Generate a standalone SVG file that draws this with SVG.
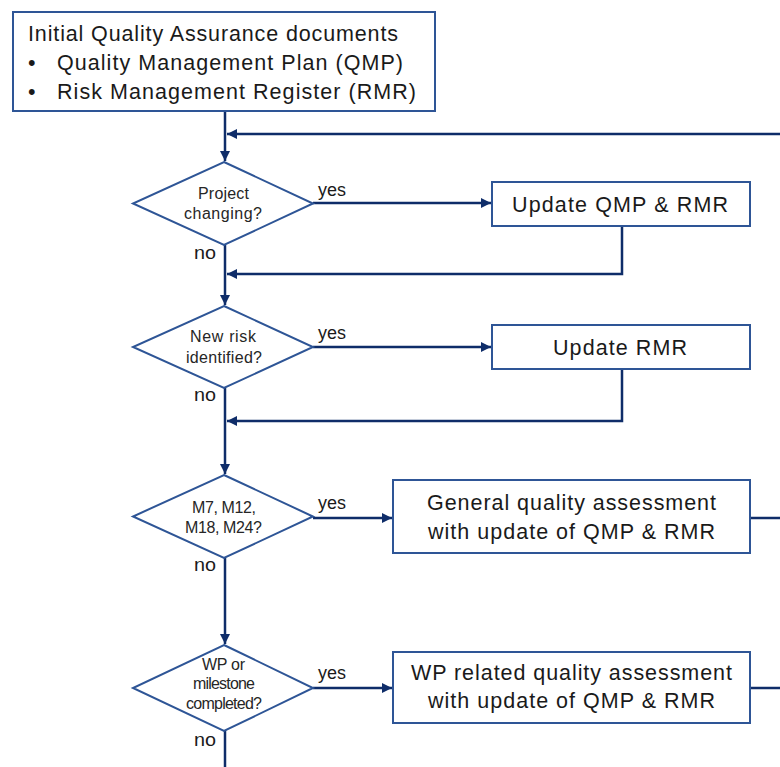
<svg xmlns="http://www.w3.org/2000/svg" width="780" height="767" viewBox="0 0 780 767">
<style>
.box{fill:#fff;stroke:#2E5596;stroke-width:2}
.dia{fill:#fff;stroke:#2E5596;stroke-width:2}
.ln{fill:none;stroke:#0F2D69;stroke-width:2.5}
.t{font-family:"Liberation Sans",Arial,sans-serif;fill:#1a1a1a}
.big{font-size:21.5px}
.sm{font-size:16px;fill:#262626}
.lbl{font-size:18px}
</style>
<defs>
<marker id="ah" viewBox="0 0 10 10" refX="10" refY="5" markerWidth="4.4" markerHeight="4" orient="auto" markerUnits="strokeWidth">
<path d="M0,0 L10,5 L0,10 z" fill="#0F2D69"/>
</marker>
</defs>
<rect width="780" height="767" fill="#fff"/>
<g id="connectors">
<path class="ln" d="M225,111 V161" marker-end="url(#ah)"/>
<path class="ln" d="M780,134 H227" marker-end="url(#ah)"/>
<path class="ln" d="M313,203 H491" marker-end="url(#ah)"/>
<path class="ln" d="M622,226 V274 H227" marker-end="url(#ah)"/>
<path class="ln" d="M225,245 V305" marker-end="url(#ah)"/>
<path class="ln" d="M313,347 H491" marker-end="url(#ah)"/>
<path class="ln" d="M622,369 V421 H227" marker-end="url(#ah)"/>
<path class="ln" d="M225,388 V474" marker-end="url(#ah)"/>
<path class="ln" d="M313,518 H392" marker-end="url(#ah)"/>
<path class="ln" d="M750,518 H780"/>
<path class="ln" d="M225,558 V644" marker-end="url(#ah)"/>
<path class="ln" d="M313,688 H392" marker-end="url(#ah)"/>
<path class="ln" d="M750,688 H780"/>
<path class="ln" d="M225,730 V767"/>
<text class="t lbl" x="318" y="196" textLength="28" lengthAdjust="spacingAndGlyphs">yes</text>
<text class="t lbl" x="194" y="259" textLength="22" lengthAdjust="spacingAndGlyphs">no</text>
<text class="t lbl" x="318" y="339" textLength="28" lengthAdjust="spacingAndGlyphs">yes</text>
<text class="t lbl" x="194" y="401" textLength="22" lengthAdjust="spacingAndGlyphs">no</text>
<text class="t lbl" x="318" y="509" textLength="28" lengthAdjust="spacingAndGlyphs">yes</text>
<text class="t lbl" x="194" y="571" textLength="22" lengthAdjust="spacingAndGlyphs">no</text>
<text class="t lbl" x="318" y="679" textLength="28" lengthAdjust="spacingAndGlyphs">yes</text>
<text class="t lbl" x="194" y="746" textLength="22" lengthAdjust="spacingAndGlyphs">no</text>
</g>
<g id="start">
<rect class="box" x="13" y="12" width="422" height="99"/>
<text class="t big" x="28" y="41" textLength="370" lengthAdjust="spacing">Initial Quality Assurance documents</text>
<text class="t big" x="28" y="70">•</text>
<text class="t big" x="57" y="70" textLength="346" lengthAdjust="spacing">Quality Management Plan (QMP)</text>
<text class="t big" x="28" y="99">•</text>
<text class="t big" x="57" y="99" textLength="359" lengthAdjust="spacing">Risk Management Register (RMR)</text>
</g>
<g id="d1">
<polygon class="dia" points="224,162 313,203.5 224,245 133,203.5"/>
<text class="t sm" x="198" y="199" textLength="51" lengthAdjust="spacing">Project</text>
<text class="t sm" x="184" y="219" textLength="78" lengthAdjust="spacing">changing?</text>
</g>
<g id="b1">
<rect class="box" x="492" y="182" width="258" height="44"/>
<text class="t big" x="512" y="212" textLength="216" lengthAdjust="spacing">Update QMP &amp; RMR</text>
</g>
<g id="d2">
<polygon class="dia" points="224,306 313,347 224,388 133,347"/>
<text class="t sm" x="190" y="342" textLength="66" lengthAdjust="spacing">New risk</text>
<text class="t sm" x="186" y="363" textLength="76" lengthAdjust="spacing">identified?</text>
</g>
<g id="b2">
<rect class="box" x="492" y="325" width="258" height="44"/>
<text class="t big" x="553" y="355" textLength="134" lengthAdjust="spacing">Update RMR</text>
</g>
<g id="d3">
<polygon class="dia" points="224,475 313,516.5 224,558 133,516.5"/>
<text class="t sm" x="192" y="513" textLength="64" lengthAdjust="spacing">M7, M12,</text>
<text class="t sm" x="185" y="533" textLength="77" lengthAdjust="spacing">M18, M24?</text>
</g>
<g id="b3">
<rect class="box" x="393" y="480" width="357" height="73"/>
<text class="t big" x="427" y="510" textLength="289" lengthAdjust="spacing">General quality assessment</text>
<text class="t big" x="428" y="539" textLength="287" lengthAdjust="spacing">with update of QMP &amp; RMR</text>
</g>
<g id="d4">
<polygon class="dia" points="224,645 313,688 224,731 133,688"/>
<text class="t sm" x="202" y="670" textLength="43" lengthAdjust="spacing">WP or</text>
<text class="t sm" x="193" y="689" textLength="62" lengthAdjust="spacing">milestone</text>
<text class="t sm" x="186" y="709" textLength="76" lengthAdjust="spacing">completed?</text>
</g>
<g id="b4">
<rect class="box" x="393" y="652" width="357" height="71"/>
<text class="t big" x="411" y="680" textLength="321" lengthAdjust="spacing">WP related quality assessment</text>
<text class="t big" x="428" y="708" textLength="287" lengthAdjust="spacing">with update of QMP &amp; RMR</text>
</g>
</svg>
